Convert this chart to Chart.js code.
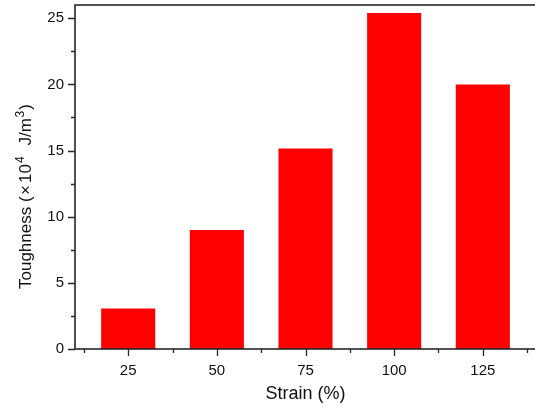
<!DOCTYPE html>
<html><head><meta charset="utf-8">
<script src="https://cdn.jsdelivr.net/npm/chart.js@4.4.0/dist/chart.umd.min.js"></script>
<style>html,body{margin:0;padding:0;background:#fff;overflow:hidden;width:535px;height:407px}canvas{display:block}</style>
</head><body>
<canvas id="c" width="541" height="407"></canvas>
<script>
const categories = [25, 50, 75, 100, 125];
const toughness = [3.06, 9.0, 15.15, 25.4, 20.0];
const yTickValues = [0, 5, 10, 15, 20, 25];
const xAxisTitle = 'Strain (%)';
// [text, superscript?, gap after]
const yTitleParts = [['Toughness (', false, 1.5], ['\u00d7', false, 2], ['10', false, 1], ['4', true, 11], ['J/m', false, 0.5], ['3', true, 1], [')', false, 0]];

const FONT = '"Liberation Sans", Arial, Helvetica, sans-serif';
const AXIS_COLOR = '#262626';

const framePlugin = {
  id: 'frame',
  afterDraw(chart) {
    const {ctx, chartArea: a, scales: {x, y}} = chart;
    ctx.save();
    ctx.strokeStyle = AXIS_COLOR;
    ctx.lineWidth = 1.6;
    ctx.strokeRect(a.left, a.top, a.right - a.left, a.bottom - a.top);
    ctx.lineWidth = 1.3;
    ctx.beginPath();
    y.ticks.forEach(t => {
      const py = Math.round(y.getPixelForValue(t.value)) + 0.5;
      const len = yTickValues.includes(t.value) ? 7 : 4;
      ctx.moveTo(a.left - len, py); ctx.lineTo(a.left, py);
    });
    x.ticks.forEach(t => {
      const px = Math.round(x.getPixelForValue(t.value)) + 0.5;
      const len = categories.includes(t.value) ? 7 : 4;
      ctx.moveTo(px, a.bottom); ctx.lineTo(px, a.bottom + len);
    });
    ctx.stroke();
    // y-axis title with superscripts
    ctx.translate(31, 289);
    ctx.rotate(-Math.PI / 2);
    ctx.fillStyle = '#111';
    ctx.textBaseline = 'alphabetic';
    ctx.textAlign = 'left';
    let cx = 0;
    yTitleParts.forEach(([txt, sup, gap]) => {
      ctx.font = (sup ? '12px ' : '17px ') + FONT;
      ctx.fillText(txt, cx, sup ? -7.5 : 0);
      cx += ctx.measureText(txt).width + gap;
    });
    ctx.restore();
  }
};

new Chart(document.getElementById('c'), {
  type: 'bar',
  data: {
    datasets: [{
      data: categories.map((c, i) => ({x: c, y: toughness[i]})),
      backgroundColor: '#ff0000',
      borderWidth: 0,
      categoryPercentage: 1,
      barPercentage: 1.22
    }]
  },
  options: {
    responsive: false,
    devicePixelRatio: 1,
    animation: false,
    layout: {padding: {left: 0, right: 5, top: 5, bottom: 0}},
    plugins: {legend: {display: false}, tooltip: {enabled: false}},
    scales: {
      x: {
        type: 'linear', min: 10, max: 140, offset: false,
        grid: {display: false, drawTicks: false}, border: {display: false},
        ticks: {
          stepSize: 12.5, includeBounds: false, autoSkip: false, maxRotation: 0,
          padding: 13, color: '#111', font: {family: FONT, size: 15},
          callback: v => categories.includes(v) ? String(v) : ''
        },
        title: {display: true, text: xAxisTitle, color: '#111', font: {family: FONT, size: 18}, padding: {top: 0, bottom: 2}},
        afterFit: s => { s.height = 58; s.paddingLeft = 0; s.paddingRight = 0; }
      },
      y: {
        min: 0, max: 26,
        grid: {display: false, drawTicks: false}, border: {display: false},
        ticks: {
          stepSize: 2.5, includeBounds: false, autoSkip: false,
          padding: 11, color: '#111', font: {family: FONT, size: 15},
          callback: v => yTickValues.includes(v) ? String(v) : ''
        },
        afterFit: s => { s.width = 75; s.paddingTop = 0; s.paddingBottom = 0; }
      }
    }
  },
  plugins: [framePlugin]
});
</script>
</body></html>
